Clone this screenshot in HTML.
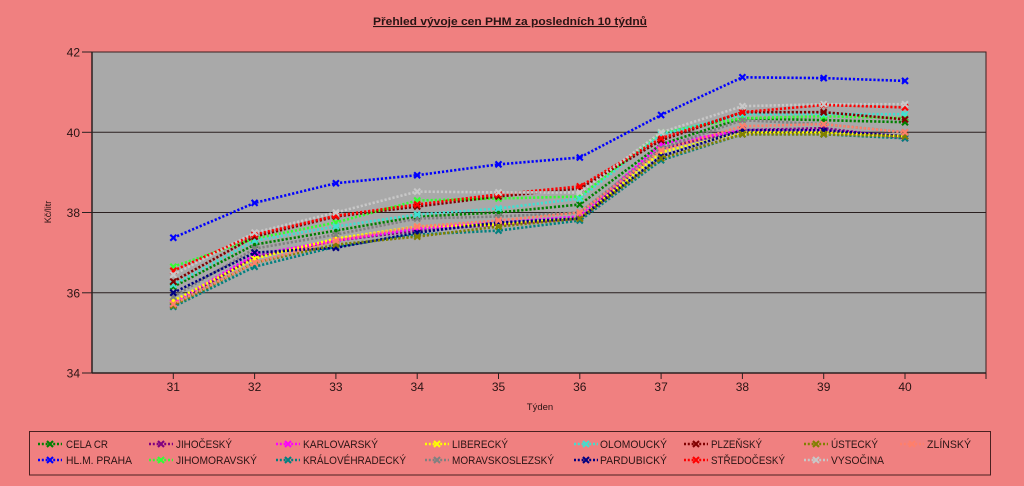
<!DOCTYPE html>
<html><head><meta charset="utf-8"><style>
html,body{margin:0;padding:0;background:#f08080;}
svg{display:block;}
text{font-family:"Liberation Sans",sans-serif;fill:#2a1414;}
</style></head><body>
<svg width="1024" height="486" viewBox="0 0 1024 486" xmlns="http://www.w3.org/2000/svg">
<defs>
<marker id="m0" markerUnits="userSpaceOnUse" markerWidth="10" markerHeight="10" viewBox="-5 -5 10 10" refX="0" refY="0"><path d="M-3,-3L3,3M-3,3L3,-3" stroke="#008000" stroke-width="2.1"/></marker>
<marker id="m1" markerUnits="userSpaceOnUse" markerWidth="10" markerHeight="10" viewBox="-5 -5 10 10" refX="0" refY="0"><path d="M-3,-3L3,3M-3,3L3,-3" stroke="#0000ff" stroke-width="2.1"/></marker>
<marker id="m2" markerUnits="userSpaceOnUse" markerWidth="10" markerHeight="10" viewBox="-5 -5 10 10" refX="0" refY="0"><path d="M-3,-3L3,3M-3,3L3,-3" stroke="#800080" stroke-width="2.1"/></marker>
<marker id="m3" markerUnits="userSpaceOnUse" markerWidth="10" markerHeight="10" viewBox="-5 -5 10 10" refX="0" refY="0"><path d="M-3,-3L3,3M-3,3L3,-3" stroke="#33ff33" stroke-width="2.1"/></marker>
<marker id="m4" markerUnits="userSpaceOnUse" markerWidth="10" markerHeight="10" viewBox="-5 -5 10 10" refX="0" refY="0"><path d="M-3,-3L3,3M-3,3L3,-3" stroke="#ff00ff" stroke-width="2.1"/></marker>
<marker id="m5" markerUnits="userSpaceOnUse" markerWidth="10" markerHeight="10" viewBox="-5 -5 10 10" refX="0" refY="0"><path d="M-3,-3L3,3M-3,3L3,-3" stroke="#008080" stroke-width="2.1"/></marker>
<marker id="m6" markerUnits="userSpaceOnUse" markerWidth="10" markerHeight="10" viewBox="-5 -5 10 10" refX="0" refY="0"><path d="M-3,-3L3,3M-3,3L3,-3" stroke="#ffff00" stroke-width="2.1"/></marker>
<marker id="m7" markerUnits="userSpaceOnUse" markerWidth="10" markerHeight="10" viewBox="-5 -5 10 10" refX="0" refY="0"><path d="M-3,-3L3,3M-3,3L3,-3" stroke="#808080" stroke-width="2.1"/></marker>
<marker id="m8" markerUnits="userSpaceOnUse" markerWidth="10" markerHeight="10" viewBox="-5 -5 10 10" refX="0" refY="0"><path d="M-3,-3L3,3M-3,3L3,-3" stroke="#40e0d0" stroke-width="2.1"/></marker>
<marker id="m9" markerUnits="userSpaceOnUse" markerWidth="10" markerHeight="10" viewBox="-5 -5 10 10" refX="0" refY="0"><path d="M-3,-3L3,3M-3,3L3,-3" stroke="#000080" stroke-width="2.1"/></marker>
<marker id="m10" markerUnits="userSpaceOnUse" markerWidth="10" markerHeight="10" viewBox="-5 -5 10 10" refX="0" refY="0"><path d="M-3,-3L3,3M-3,3L3,-3" stroke="#800000" stroke-width="2.1"/></marker>
<marker id="m11" markerUnits="userSpaceOnUse" markerWidth="10" markerHeight="10" viewBox="-5 -5 10 10" refX="0" refY="0"><path d="M-3,-3L3,3M-3,3L3,-3" stroke="#ff0000" stroke-width="2.1"/></marker>
<marker id="m12" markerUnits="userSpaceOnUse" markerWidth="10" markerHeight="10" viewBox="-5 -5 10 10" refX="0" refY="0"><path d="M-3,-3L3,3M-3,3L3,-3" stroke="#808000" stroke-width="2.1"/></marker>
<marker id="m13" markerUnits="userSpaceOnUse" markerWidth="10" markerHeight="10" viewBox="-5 -5 10 10" refX="0" refY="0"><path d="M-3,-3L3,3M-3,3L3,-3" stroke="#c8c8c8" stroke-width="2.1"/></marker>
<marker id="m14" markerUnits="userSpaceOnUse" markerWidth="10" markerHeight="10" viewBox="-5 -5 10 10" refX="0" refY="0"><path d="M-3,-3L3,3M-3,3L3,-3" stroke="#ff7f6a" stroke-width="2.1"/></marker>
</defs>

<rect width="1024" height="486" fill="#f08080"/>

<text x="510" y="25" text-anchor="middle" font-size="11" font-weight="bold" text-decoration="underline" textLength="274" lengthAdjust="spacingAndGlyphs">Přehled vývoje cen PHM za posledních 10 týdnů</text>

<rect x="92" y="52" width="894" height="321" fill="#a9a9a9" stroke="#3a2020" stroke-width="1"/>
<g stroke="#2a2020" stroke-width="1">
<line x1="92" y1="132.3" x2="986" y2="132.3"/>
<line x1="92" y1="212.5" x2="986" y2="212.5"/>
<line x1="92" y1="292.8" x2="986" y2="292.8"/>
<line x1="92" y1="52" x2="92" y2="373" stroke-width="1.5"/>
<line x1="92" y1="373" x2="986" y2="373" stroke-width="1.5"/>
<line x1="82" y1="52" x2="92" y2="52"/>
<line x1="82" y1="132.3" x2="92" y2="132.3"/>
<line x1="82" y1="212.5" x2="92" y2="212.5"/>
<line x1="82" y1="292.8" x2="92" y2="292.8"/>
<line x1="82" y1="373" x2="92" y2="373"/>
<line x1="173.3" y1="373" x2="173.3" y2="379"/>
<line x1="254.6" y1="373" x2="254.6" y2="379"/>
<line x1="335.9" y1="373" x2="335.9" y2="379"/>
<line x1="417.2" y1="373" x2="417.2" y2="379"/>
<line x1="498.5" y1="373" x2="498.5" y2="379"/>
<line x1="579.8" y1="373" x2="579.8" y2="379"/>
<line x1="661.1" y1="373" x2="661.1" y2="379"/>
<line x1="742.4" y1="373" x2="742.4" y2="379"/>
<line x1="823.7" y1="373" x2="823.7" y2="379"/>
<line x1="905" y1="373" x2="905" y2="379"/>
<line x1="986" y1="373" x2="986" y2="379"/>
</g>

<g font-size="12" text-anchor="end">
<text x="80" y="56.5">42</text>
<text x="80" y="136.8">40</text>
<text x="80" y="217">38</text>
<text x="80" y="297.3">36</text>
<text x="80" y="377.5">34</text>
</g>
<g font-size="12" text-anchor="middle">
<text x="173.3" y="391">31</text>
<text x="254.6" y="391">32</text>
<text x="335.9" y="391">33</text>
<text x="417.2" y="391">34</text>
<text x="498.5" y="391">35</text>
<text x="579.8" y="391">36</text>
<text x="661.1" y="391">37</text>
<text x="742.4" y="391">38</text>
<text x="823.7" y="391">39</text>
<text x="905" y="391">40</text>
</g>
<text x="540" y="410" font-size="9.5" text-anchor="middle">Týden</text>
<text transform="translate(51,212) rotate(-90)" font-size="9" text-anchor="middle">Kč/litr</text>

<g fill="none" stroke-width="2.6" stroke-dasharray="2.2 1.9">
<polyline stroke="#008000" marker-start="url(#m0)" marker-mid="url(#m0)" marker-end="url(#m0)" points="173.3,286.7 254.6,244.6 335.9,230.6 417.2,216.5 498.5,212.5 579.8,204.5 661.1,144.3 742.4,118.2 823.7,120.2 905,122.2"/>
<polyline stroke="#800080" marker-start="url(#m2)" marker-mid="url(#m2)" marker-end="url(#m2)" points="173.3,304.8 254.6,256.6 335.9,240.6 417.2,230.6 498.5,224.5 579.8,218.5 661.1,148.3 742.4,130.2 823.7,128.2 905,138.3"/>
<polyline stroke="#33ff33" marker-start="url(#m3)" marker-mid="url(#m3)" marker-end="url(#m3)" points="173.3,266.7 254.6,238.6 335.9,222.5 417.2,200.5 498.5,198.5 579.8,196.5 661.1,132.3 742.4,118.2 823.7,116.2 905,118.2"/>
<polyline stroke="#ff00ff" marker-start="url(#m4)" marker-mid="url(#m4)" marker-end="url(#m4)" points="173.3,302.8 254.6,254.6 335.9,240.6 417.2,228.6 498.5,222.5 579.8,216.5 661.1,144.3 742.4,130.2 823.7,130.2 905,136.3"/>
<polyline stroke="#008080" marker-start="url(#m5)" marker-mid="url(#m5)" marker-end="url(#m5)" points="173.3,306.8 254.6,266.7 335.9,246.6 417.2,234.6 498.5,230.6 579.8,220.5 661.1,160.3 742.4,134.3 823.7,134.3 905,138.3"/>
<polyline stroke="#ffff00" marker-start="url(#m6)" marker-mid="url(#m6)" marker-end="url(#m6)" points="173.3,300.8 254.6,258.6 335.9,238.6 417.2,226.5 498.5,224.5 579.8,218.5 661.1,152.3 742.4,132.3 823.7,132.3 905,136.3"/>
<polyline stroke="#808080" marker-start="url(#m7)" marker-mid="url(#m7)" marker-end="url(#m7)" points="173.3,296.8 254.6,248.6 335.9,234.6 417.2,218.5 498.5,216.5 579.8,212.5 661.1,148.3 742.4,120.2 823.7,124.2 905,132.3"/>
<polyline stroke="#40e0d0" marker-start="url(#m8)" marker-mid="url(#m8)" marker-end="url(#m8)" points="173.3,284.7 254.6,240.6 335.9,226.5 417.2,214.5 498.5,208.5 579.8,198.5 661.1,134.3 742.4,114.2 823.7,114.2 905,114.2"/>
<polyline stroke="#000080" marker-start="url(#m9)" marker-mid="url(#m9)" marker-end="url(#m9)" points="173.3,292.8 254.6,252.6 335.9,247.8 417.2,232.6 498.5,222.5 579.8,218.5 661.1,156.3 742.4,130.2 823.7,130.2 905,136.3"/>
<polyline stroke="#800000" marker-start="url(#m10)" marker-mid="url(#m10)" marker-end="url(#m10)" points="173.3,281.5 254.6,236.6 335.9,216.5 417.2,206.5 498.5,196.5 579.8,188.4 661.1,140.3 742.4,112.2 823.7,112.2 905,119.4"/>
<polyline stroke="#ff0000" marker-start="url(#m11)" marker-mid="url(#m11)" marker-end="url(#m11)" points="173.3,270.7 254.6,234.6 335.9,215.7 417.2,204.5 498.5,194.4 579.8,186.4 661.1,138.3 742.4,112.2 823.7,105 905,107.4"/>
<polyline stroke="#808000" marker-start="url(#m12)" marker-mid="url(#m12)" marker-end="url(#m12)" points="173.3,305.6 254.6,262.7 335.9,244.6 417.2,236.6 498.5,226.5 579.8,218.5 661.1,158.3 742.4,134.3 823.7,134.3 905,136.3"/>
<polyline stroke="#c8c8c8" marker-start="url(#m13)" marker-mid="url(#m13)" marker-end="url(#m13)" points="173.3,274.7 254.6,232.6 335.9,212.5 417.2,191.6 498.5,192.4 579.8,192.4 661.1,132.3 742.4,106.2 823.7,104.2 905,104.2"/>
<polyline stroke="#ff7f6a" marker-start="url(#m14)" marker-mid="url(#m14)" marker-end="url(#m14)" points="173.3,304 254.6,262.7 335.9,240.6 417.2,226.5 498.5,220.5 579.8,212.5 661.1,150.3 742.4,126.2 823.7,124.2 905,132.3"/>
<polyline stroke="#0000ff" marker-start="url(#m1)" marker-mid="url(#m1)" marker-end="url(#m1)" points="173.3,237.8 254.6,202.9 335.9,183.2 417.2,175.2 498.5,164.4 579.8,157.5 661.1,115 742.4,77.3 823.7,78.1 905,80.9"/>
</g>

<rect x="29.5" y="431.5" width="961" height="43.5" fill="none" stroke="#4a2020" stroke-width="1"/>
<g fill="none" stroke-width="2.4" stroke-dasharray="2 1.8">
<polyline points="38,444 50,444 62,444" stroke="#008000" marker-mid="url(#m0)"/>
<polyline points="38,460 50,460 62,460" stroke="#0000ff" marker-mid="url(#m1)"/>
<polyline points="149,444 161,444 173,444" stroke="#800080" marker-mid="url(#m2)"/>
<polyline points="149,460 161,460 173,460" stroke="#33ff33" marker-mid="url(#m3)"/>
<polyline points="276,444 288,444 300,444" stroke="#ff00ff" marker-mid="url(#m4)"/>
<polyline points="276,460 288,460 300,460" stroke="#008080" marker-mid="url(#m5)"/>
<polyline points="425,444 437,444 449,444" stroke="#ffff00" marker-mid="url(#m6)"/>
<polyline points="425,460 437,460 449,460" stroke="#808080" marker-mid="url(#m7)"/>
<polyline points="574,444 586,444 598,444" stroke="#40e0d0" marker-mid="url(#m8)"/>
<polyline points="574,460 586,460 598,460" stroke="#000080" marker-mid="url(#m9)"/>
<polyline points="684,444 696,444 708,444" stroke="#800000" marker-mid="url(#m10)"/>
<polyline points="684,460 696,460 708,460" stroke="#ff0000" marker-mid="url(#m11)"/>
<polyline points="804,444 816,444 828,444" stroke="#808000" marker-mid="url(#m12)"/>
<polyline points="804,460 816,460 828,460" stroke="#c8c8c8" marker-mid="url(#m13)"/>
<polyline points="900,444 912,444 924,444" stroke="#ff7f6a" marker-mid="url(#m14)"/>
</g>
<g font-size="11">
<text x="66" y="448" textLength="42" lengthAdjust="spacingAndGlyphs">CELA CR</text>
<text x="66" y="464" textLength="66" lengthAdjust="spacingAndGlyphs">HL.M. PRAHA</text>
<text x="176" y="448" textLength="56" lengthAdjust="spacingAndGlyphs">JIHOČESKÝ</text>
<text x="176" y="464" textLength="81" lengthAdjust="spacingAndGlyphs">JIHOMORAVSKÝ</text>
<text x="303" y="448" textLength="75" lengthAdjust="spacingAndGlyphs">KARLOVARSKÝ</text>
<text x="303" y="464" textLength="103" lengthAdjust="spacingAndGlyphs">KRÁLOVÉHRADECKÝ</text>
<text x="452" y="448" textLength="56" lengthAdjust="spacingAndGlyphs">LIBERECKÝ</text>
<text x="452" y="464" textLength="102" lengthAdjust="spacingAndGlyphs">MORAVSKOSLEZSKÝ</text>
<text x="600" y="448" textLength="67" lengthAdjust="spacingAndGlyphs">OLOMOUCKÝ</text>
<text x="600" y="464" textLength="67" lengthAdjust="spacingAndGlyphs">PARDUBICKÝ</text>
<text x="711" y="448" textLength="51" lengthAdjust="spacingAndGlyphs">PLZEŇSKÝ</text>
<text x="711" y="464" textLength="74" lengthAdjust="spacingAndGlyphs">STŘEDOČESKÝ</text>
<text x="831" y="448" textLength="47" lengthAdjust="spacingAndGlyphs">ÚSTECKÝ</text>
<text x="831" y="464" textLength="53" lengthAdjust="spacingAndGlyphs">VYSOČINA</text>
<text x="927" y="448" textLength="44" lengthAdjust="spacingAndGlyphs">ZLÍNSKÝ</text>
</g>
</svg>
</body></html>
